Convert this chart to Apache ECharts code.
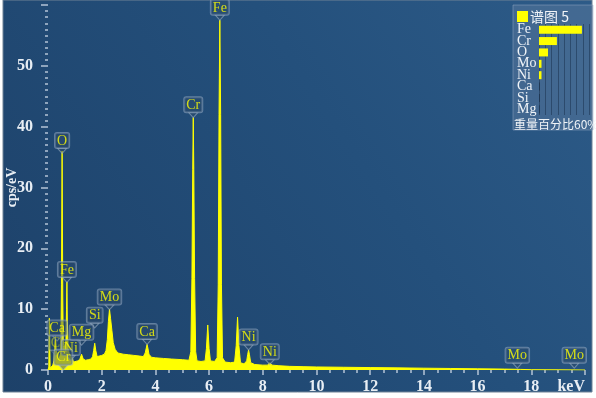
<!DOCTYPE html>
<html><head><meta charset="utf-8">
<script src="https://cdn.jsdelivr.net/npm/echarts@6/dist/echarts.min.js"></script>
<style>html,body{margin:0;padding:0;background:#fff;}#c{width:596px;height:398px;}</style>
</head><body><div id="c"></div>
<script>
// Spectrum (energy keV, counts cps/eV)
const energy = [0.00,0.03,0.05,0.08,0.12,0.18,0.22,0.25,0.277,0.30,0.34,0.40,0.45,0.48,0.50,0.525,0.55,0.57,0.60,0.64,0.67,0.69,0.705,0.72,0.75,0.80,0.85,0.90,0.95,1.00,1.10,1.18,1.25,1.31,1.40,1.50,1.60,1.66,1.70,1.74,1.78,1.83,1.90,2.00,2.10,2.16,2.21,2.25,2.29,2.33,2.38,2.43,2.50,2.60,2.80,3.00,3.20,3.40,3.55,3.62,3.66,3.69,3.72,3.76,3.85,4.00,4.30,4.60,5.00,5.25,5.32,5.36,5.39,5.41,5.43,5.46,5.50,5.55,5.70,5.85,5.90,5.95,6.00,6.05,6.20,6.30,6.34,6.37,6.40,6.43,6.46,6.50,6.60,6.80,6.95,7.01,7.06,7.11,7.17,7.30,7.40,7.44,7.47,7.50,7.55,7.70,8.00,8.18,8.26,8.34,8.60,9.00,9.50,10.0,11.0,12.0,13.0,14.0,15.0,16.0,17.0,17.6,18.0,19.0,20.0];
const counts = [0,0.5,8.5,0.3,0.4,0.8,1.5,3.5,5.5,3.5,2.2,1.5,1.6,3,14,36,12,4,3.5,3.5,5,10,14.5,8,3.5,2.5,2.8,2,1.3,1.3,1.5,1.7,2.6,1.8,1.6,1.7,1.8,2.2,3.2,4.4,3.2,2.2,2.2,2.4,2.6,3.2,5,8,10,8.5,6.5,4.5,3.4,2.8,2.6,2.5,2.4,2.3,2.2,2.8,3.6,4.2,3.6,2.6,2.1,2.0,1.9,1.8,1.7,1.6,3,15,33,41.5,33,15,3,1.5,1.4,1.5,3.5,7.4,3.5,1.5,1.4,2,14,42,57.5,42,14,2,1.3,1.2,1.3,4,8.7,4,1.2,1.0,1.5,2.6,3.3,2.6,1.2,0.9,0.8,0.8,1.2,0.8,0.7,0.6,0.55,0.5,0.45,0.4,0.35,0.3,0.25,0.2,0.15,0.1,0.05,0.03,0];

// Peak labels: element, energy, tip value
const peakNames  = ['C','Ca','Ni','Cr','Mg','O','Fe','Si','Mo','Ca','Cr','Fe','Ni','Ni','Mo','Mo'];
const peakEnergy = [0.277,0.34,0.85,0.57,1.25,0.525,0.705,1.74,2.29,3.69,5.41,6.40,7.47,8.26,17.48,19.6];
const peakTip    = [2.4,4.8,1.6,0.0,4.1,35.6,14.4,6.9,9.9,4.2,41.5,57.5,3.3,0.9,0.3,0.3];

// Inset: weight percent
const insetElements = ['Fe','Cr','O','Mo','Ni','Ca','Si','Mg'];
const insetValues   = [51.5,21.5,10.8,3.0,3.0,0.6,0.6,0.5];
const insetTitle = '谱图 5';
const insetFooter = '重量百分比60%';

const xTickLabels = ['0','2','4','6','8','10','12','14','16','18','keV'];
const yTickLabels = ['0','10','20','30','40','50',''];

const serif = 'Liberation Serif';
const chart = echarts.init(document.getElementById('c'));
const spec = energy.map((e,i)=>[e,counts[i]]);
const peaks = peakNames.map((n,i)=>({value:[peakEnergy[i],peakTip[i]],name:n,
  label:n==='C'?{opacity:0.45}:undefined, itemStyle:n==='C'?{opacity:0.4}:undefined}));

chart.setOption({
  animation:false,
  backgroundColor:'#ffffff',
  graphic:[
    {type:'rect',z:-100,silent:true,shape:{x:3,y:0,width:589,height:392},
     style:{fill:new echarts.graphic.LinearGradient(0,1,1,0,[{offset:0,color:'#1d4169'},{offset:0.6,color:'#24507c'},{offset:1,color:'#2d5b88'}]),stroke:'#6f8296',lineWidth:1}},
    {type:'rect',z:-50,silent:true,shape:{x:513,y:5,width:80,height:125},
     style:{fill:'rgba(95,125,160,0.45)',stroke:'rgba(150,170,195,0.5)',lineWidth:1}},
    {type:'rect',z:100,silent:true,shape:{x:517,y:11,width:11,height:11},style:{fill:'#ffff00'}},
    {type:'text',z:100,silent:true,style:{x:530,y:17,text:insetTitle,fill:'#f0f4f8',font:'14px "Noto Sans CJK SC", serif',verticalAlign:'middle'}},
    {type:'text',z:100,silent:true,style:{x:514,y:124,text:insetFooter,fill:'#f0f4f8',font:'12px "Noto Sans CJK SC", serif',verticalAlign:'middle'}}
  ],
  grid:[
    {left:48,right:11,top:5,bottom:28,outerBoundsMode:'none',containLabel:false},
    {left:539,width:50,top:24,height:91,outerBoundsMode:'none',containLabel:false}
  ],
  xAxis:[
    {type:'value',gridIndex:0,min:0,max:20,interval:2,offset:3,
     axisLine:{show:false},
     axisTick:{show:true,length:5,lineStyle:{color:'#b4c4d6',width:1.5}},
     minorTick:{show:true,splitNumber:4,length:3,lineStyle:{color:'#b4c4d6',width:1.5}},
     splitLine:{show:false},
     axisLabel:{color:'#e8eef4',fontFamily:serif,fontSize:16,fontWeight:'bold',margin:6,alignMaxLabel:'right',
       formatter:(v)=>xTickLabels[Math.round(v/2)]}},
    {type:'value',gridIndex:1,min:0,max:60,interval:7.5,
     axisLine:{show:false},axisTick:{show:false},axisLabel:{show:false},
     splitLine:{show:true,lineStyle:{color:'rgba(30,55,85,0.6)',width:1}}}
  ],
  yAxis:[
    {type:'value',gridIndex:0,min:0,max:60,interval:10,offset:7,
     axisLine:{show:false},
     axisTick:{show:true,length:7,lineStyle:{color:'#b4c4d6',width:1.5}},
     minorTick:{show:true,splitNumber:10,length:3,lineStyle:{color:'#b4c4d6',width:1.5}},
     splitLine:{show:false},
     axisLabel:{color:'#e8eef4',fontFamily:serif,fontSize:16,fontWeight:'bold',margin:8,
       formatter:(v)=>yTickLabels[Math.round(v/10)]},
     name:'cps/eV',nameLocation:'middle',nameGap:22,nameMoveOverlap:false,
     nameTextStyle:{color:'#e8eef4',fontFamily:serif,fontSize:14,fontWeight:'bold'}},
    {type:'category',gridIndex:1,data:insetElements,inverse:true,
     axisLine:{show:false},axisTick:{show:false},
     axisLabel:{color:'#f0f4f8',fontFamily:serif,fontSize:14,align:'left',margin:22,interval:0}}
  ],
  series:[
    {type:'line',xAxisIndex:0,yAxisIndex:0,data:spec,showSymbol:false,symbol:'none',
     lineStyle:{color:'#ffff00',width:1},areaStyle:{color:'#ffff00',opacity:1},z:2},
    {type:'scatter',xAxisIndex:0,yAxisIndex:0,data:peaks,z:5,
     symbol:'path://M0,0 L10,0 L5,6 Z',symbolSize:[9,5],symbolOffset:[0,-2.5],
     itemStyle:{color:'rgba(45,75,105,0.6)',borderColor:'rgba(160,180,200,0.7)',borderWidth:1},
     label:{show:true,position:'top',distance:0,formatter:(p)=>p.name,color:'#ffff00',
       fontFamily:serif,fontSize:14,backgroundColor:'rgba(45,75,108,0.55)',
       borderColor:'rgba(150,172,196,0.7)',borderWidth:1,borderRadius:2,padding:[1,2,0,2]}},
    {type:'bar',xAxisIndex:1,yAxisIndex:1,data:insetValues.map(v=>({value:v,itemStyle:{color:v<1?'#14263d':'#ffff00'}})),
     barWidth:8,z:3}
  ]
});
</script></body></html>
